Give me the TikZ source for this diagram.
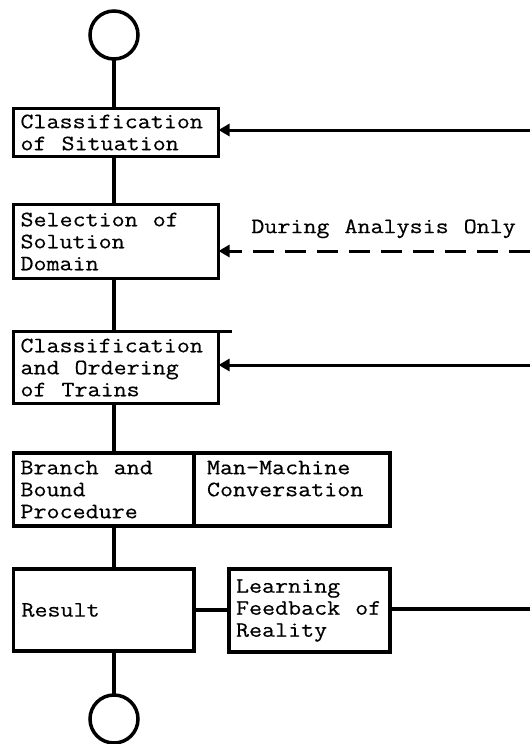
\documentclass[tikz,border=0pt]{standalone}
\usepackage{fontspec}
\setmonofont{Latin Modern Mono}[FakeStretch=1.15,FakeBold=0.4,WordSpace={1.15,0,0}]
\usetikzlibrary{arrows.meta,positioning}

\begin{document}
\begin{tikzpicture}[x=1pt,y=-1pt,
  stage/.style={draw,line width=3.5pt,anchor=north west,align=left,outer sep=0pt,inner xsep=7pt,inner ysep=0pt,font=\ttfamily\fontsize{22}{22}\selectfont,execute at begin node={\spaceskip=\fontdimen2\font\relax}},
  term/.style={draw,circle,line width=3.5pt,minimum size=48pt,inner sep=0pt,outer sep=0pt},
  link/.style={line width=3.5pt},
  feed/.style={line width=3pt,-{Triangle[length=11pt,width=12pt]}}]
  \useasboundingbox (0,0) rectangle (530,744);
  \node[term] (start) at (114,35) {};
  \node[stage,text width=191pt,minimum height=48pt] (situation) at (13.5,108.5) {Classification\\of Situation};
  \node[stage,text width=191pt,minimum height=74pt] (domain) at (13.5,204.5) {Selection of\\Solution\\Domain};
  \node[stage,text width=191pt,minimum height=72pt] (trains) at (13.5,331.5) {Classification\\and Ordering\\of Trains};
  \node[stage,text width=166.5pt,minimum height=73pt,text depth=44pt] (bound) at (13.5,453) {Branch and\\Bound\\Procedure};
  \node[stage,text width=170pt,inner xsep=13pt,minimum height=73pt,text depth=44pt] (dialog) at (bound.north east) {Man-Machine\\Conversation};
  \node[stage,text width=164.5pt,inner xsep=8pt,minimum height=82pt] (result) at (13.5,569) {Result};
  \node[stage,text width=147pt,minimum height=83pt] (learning) at (229,569) {Learning\\Feedback of\\Reality};
  \node[term] (stop) at (114,719) {};
  \coordinate (edgeA) at (530,130);
  \coordinate (edgeB) at (530,251);
  \coordinate (edgeC) at (530,365);
  \coordinate (edgeD) at (530,609);
  \draw[link] (start) -- (start |- situation.north);
  \draw[link] (start |- situation.south) -- (start |- domain.north);
  \draw[link] (start |- domain.south) -- (start |- trains.north);
  \draw[link] (start |- trains.south) -- (start |- bound.north);
  \draw[link] (start |- bound.south) -- (start |- result.north);
  \draw[link] (start |- result.south) -- (stop);
  \draw[link] (trains.north east) -- ++(13,0);
  \draw[link] (result.east) -- (learning.west |- result.east);
  \draw[link] (learning.east |- edgeD) -- (edgeD);
  \draw[feed] (edgeA) -- (situation.east |- edgeA);
  \draw[feed,dash pattern=on 21pt off 11pt] (edgeB) -- node[pos=0.47,above=8pt,font=\ttfamily\fontsize{22}{22}\selectfont] (analysis) {During Analysis Only} (domain.east |- edgeB);
  \draw[feed] (edgeC) -- (trains.east |- edgeC);
\end{tikzpicture}
\end{document}
